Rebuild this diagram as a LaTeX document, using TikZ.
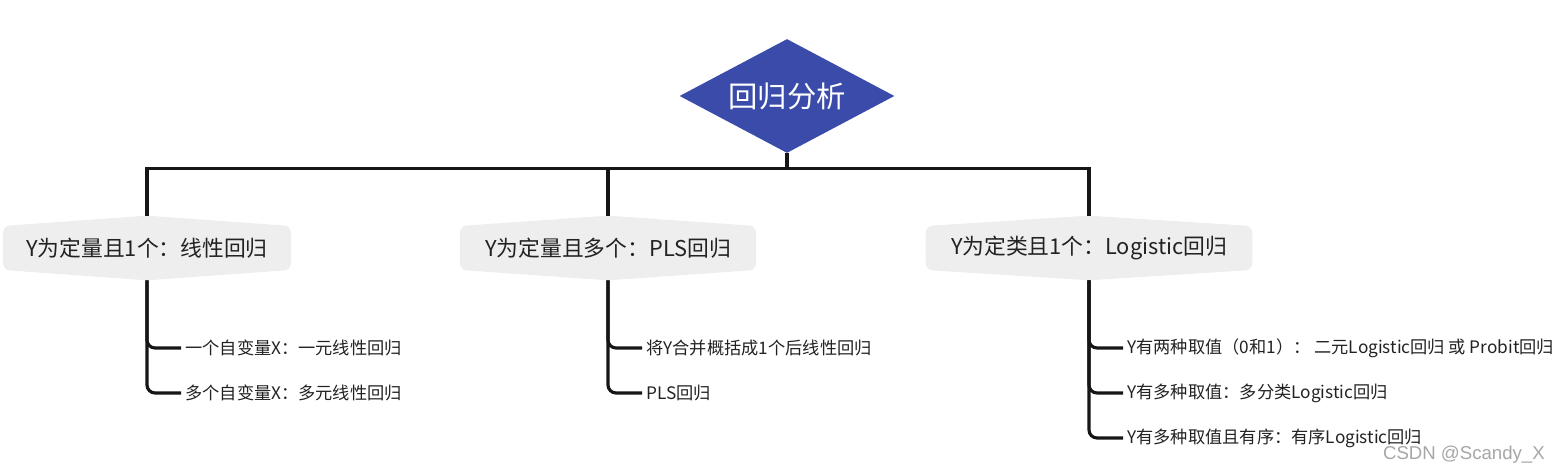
\documentclass[tikz,border=0pt]{standalone}
\usepackage{fontspec}
\setmainfont{Noto Sans CJK SC}
\newfontfamily\wmfont{Liberation Sans}
\usetikzlibrary{shapes.geometric, backgrounds}
\definecolor{rootblue}{RGB}{58,75,170}
\definecolor{boxgray}{RGB}{238,238,238}
\definecolor{linkgray}{RGB}{22,22,22}
\definecolor{textgray}{RGB}{34,34,34}
\tikzset{
  Root/.style = {diamond, fill=rootblue, text=white, inner sep=0pt, aspect=1.89,
    minimum width=4.3cm, minimum height=2.28cm, font=\fontsize{16.7}{20}\selectfont},
  Cat/.style = {inner xsep=0.5cm, inner ysep=0pt, minimum height=1.28cm, text=textgray,
    font=\fontsize{12.4}{15}\selectfont},
  Leaf/.style = {anchor=west, inner sep=0.08cm, text=textgray, font=\fontsize{9.8}{12}\selectfont},
  Link/.style = {draw=linkgray, line width=2pt},
  LeafLink/.style = {draw=linkgray, line width=1.8pt, rounded corners=0.16cm}
}
\begin{document}
\begin{tikzpicture}[x=0.02cm, y=0.02cm]
  \useasboundingbox (0,0) rectangle (1566,475);
  \node[Root] (root) at (787,379) {回归分析};
  \node[Cat, inner xsep=0.46cm] (lin) at (147,227) {Y为定量且1个：线性回归};
  \node[Cat] (pls)  at (608,227)  {Y为定量且多个：PLS回归};
  \node[Cat] (logi) at (1089,227) {Y为定类且1个：Logistic回归};
  \begin{scope}[on background layer]
    \foreach \n in {lin,pls,logi}
      \fill[boxgray, rounded corners=4pt] ([yshift=-4.4mm]\n.west) -- ([yshift=4.4mm]\n.west)
        -- (\n.north) -- ([yshift=4.4mm]\n.east) -- ([yshift=-4.4mm]\n.east) -- (\n.south) -- cycle;
  \end{scope}
  \node[Leaf] (lin1)  at (181,127)  {一个自变量X：一元线性回归};
  \node[Leaf] (lin2)  at (181,82)   {多个自变量X：多元线性回归};
  \node[Leaf] (pls1)  at (642,127)  {将Y合并概括成1个后线性回归};
  \node[Leaf] (pls2)  at (642,82)   {PLS回归};
  \node[Leaf] (logi1) at (1123,127) {Y有两种取值（0和1）： 二元Logistic回归 或 Probit回归};
  \node[Leaf] (logi2) at (1123,82)  {Y有多种取值：多分类Logistic回归};
  \node[Leaf] (logi3) at (1123,37)  {Y有多种取值且有序：有序Logistic回归};
  \coordinate (hub) at ([yshift=-0.3cm]root.south);
  \draw[Link] (root.south) -- (hub);
  \foreach \c in {lin,pls,logi}
    \draw[Link] (\c.north) |- (hub);
  \foreach \c/\l in {lin/lin1, lin/lin2, pls/pls1, pls/pls2, logi/logi1, logi/logi2, logi/logi3}
    \draw[LeafLink] (\c.south) |- (\l.west);
  \node[anchor=east, text=gray!70, font=\wmfont\fontsize{10.6}{13}\selectfont] (mark) at (1551,20) {CSDN @Scandy\_X};
\end{tikzpicture}
\end{document}
